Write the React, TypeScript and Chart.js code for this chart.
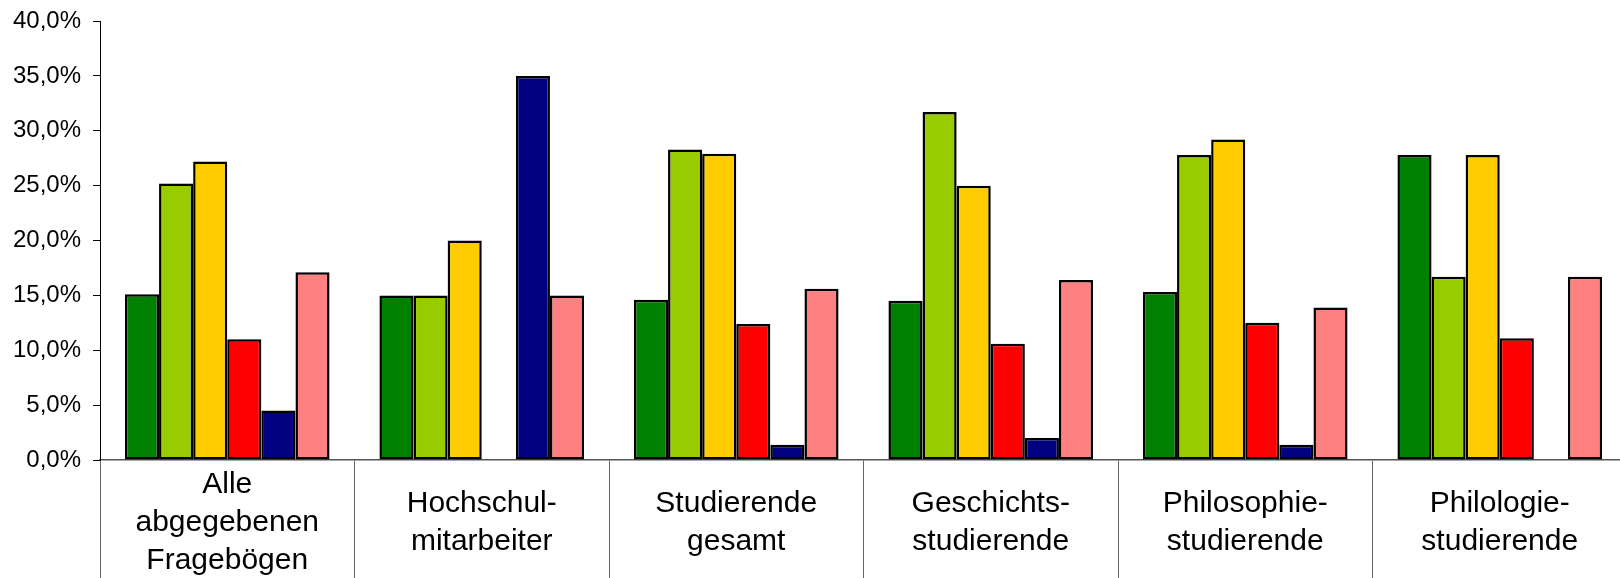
import React, { useEffect, useRef } from "react";
import { Chart, registerables } from "chart.js";

Chart.register(...registerables);

const categories: string[][] = [
  ["Alle", "abgegebenen", "Fragebögen"],
  ["Hochschul-", "mitarbeiter"],
  ["Studierende", "gesamt"],
  ["Geschichts-", "studierende"],
  ["Philosophie-", "studierende"],
  ["Philologie-", "studierende"],
];

const seriesGreen = [15.1, 15.0, 14.6, 14.5, 15.3, 27.8];
const seriesLime = [25.2, 15.0, 28.3, 31.7, 27.8, 16.7];
const seriesYellow = [27.2, 20.0, 27.9, 25.0, 29.2, 27.8];
const seriesRed = [11.0, 0, 12.4, 10.6, 12.5, 11.1];
const seriesNavy = [4.5, 35.0, 1.4, 2.0, 1.4, 0];
const seriesPink = [17.1, 15.0, 15.6, 16.4, 13.9, 16.7];

const colors = ["#008000", "#99CC00", "#FFCC00", "#FF0000", "#000080", "#FF8080"];

const FONT = "'Liberation Sans', Arial, sans-serif";

export default function App() {
  const ref = useRef<HTMLCanvasElement | null>(null);

  useEffect(() => {
    if (!ref.current) return;
    const all = [seriesGreen, seriesLime, seriesYellow, seriesRed, seriesNavy, seriesPink];
    const chart = new Chart(ref.current, {
      type: "bar",
      data: {
        labels: categories,
        datasets: all.map((d, i) => ({
          label: "S" + (i + 1),
          data: d,
          backgroundColor: colors[i],
          borderColor: "#000000",
          borderWidth: 2.5,
          borderSkipped: false,
          categoryPercentage: 0.804,
          barPercentage: 1,
        })),
      },
      options: {
        responsive: false,
        animation: false,
        layout: { padding: { top: 21, right: 0, bottom: 0, left: 0 } },
        plugins: {
          legend: { display: false },
          tooltip: { enabled: false },
        },
        scales: {
          x: {
            grid: {
              offset: true,
              drawOnChartArea: false,
              drawTicks: true,
              tickLength: 118,
              color: "#666666",
              lineWidth: 1,
            },
            border: { display: true, color: "#555555", width: 1.5 },
            ticks: {
              autoSkip: false,
              maxRotation: 0,
              minRotation: 0,
              color: "#000000",
              font: { family: FONT, size: 30, lineHeight: 1.26 },
              padding: -93,
              crossAlign: "center",
            },
            afterFit: (s: any) => {
              s.height = 118;
              s.paddingLeft = 0;
              s.paddingRight = 0;
            },
          },
          y: {
            min: 0,
            max: 40,
            grid: { drawOnChartArea: false, tickLength: 7, color: "#000000" },
            border: { display: true, color: "#000000", width: 1 },
            ticks: {
              stepSize: 5,
              color: "#000000",
              font: { family: FONT, size: 24 },
              padding: 12,
              callback: (v: any) => Number(v).toFixed(1).replace(".", ",") + "%",
            },
            afterFit: (s: any) => {
              s.width = 100;
              s.paddingTop = 0;
              s.paddingBottom = 0;
            },
          },
        },
      },
    });
    return () => chart.destroy();
  }, []);

  return (
    <div
      style={{
        position: "absolute",
        left: 0,
        top: 0,
        width: 1620,
        height: 578,
        overflow: "hidden",
        background: "#ffffff",
      }}
    >
      <canvas ref={ref} width={1627} height={578} style={{ display: "block" }} />
    </div>
  );
}
